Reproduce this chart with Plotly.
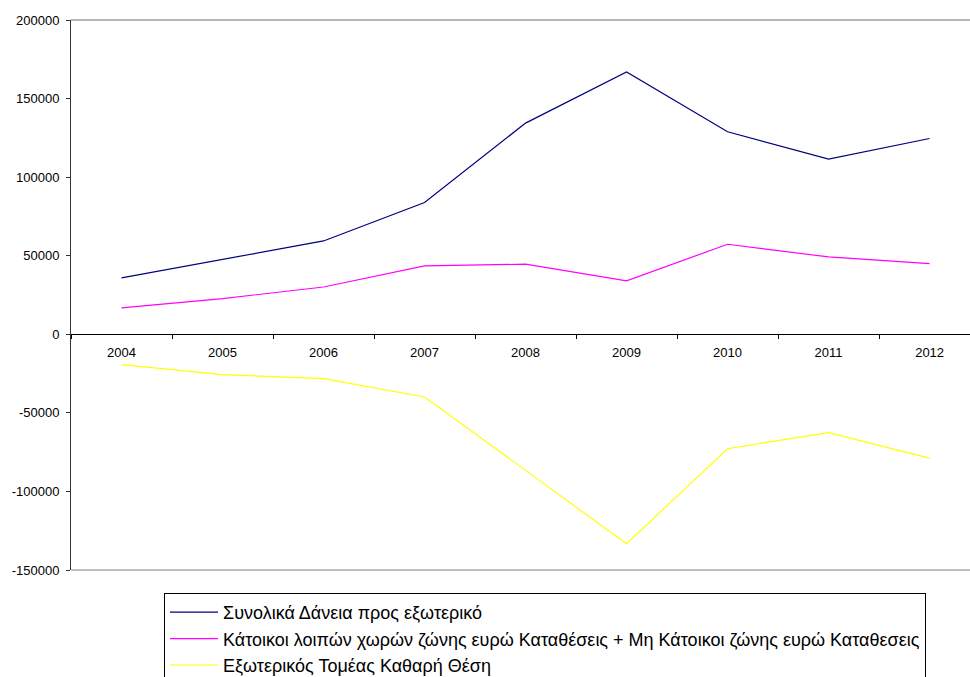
import plotly.graph_objects as go

years = ["2004", "2005", "2006", "2007", "2008", "2009", "2010", "2011", "2012"]
loans_abroad = [35900, 47600, 59400, 83900, 134400, 166900, 128900, 111500, 124600]
deposits_nonres = [16800, 22700, 30100, 43500, 44600, 34000, 57300, 49200, 45000]
net_position = [-19300, -25700, -28200, -39900, -86600, -133300, -72800, -62600, -78800]

names = [
    "Συνολικά Δάνεια προς εξωτερικό",
    "Κάτοικοι λοιπών χωρών ζώνης ευρώ Καταθέσεις + Μη Κάτοικοι ζώνης ευρώ Καταθεσεις",
    "Εξωτερικός Τομέας Καθαρή Θέση",
]
colors = ["#000080", "#FF00FF", "#FFFF00"]
series = [loans_abroad, deposits_nonres, net_position]

fig = go.Figure()
for i, (nm, col, vals) in enumerate(zip(names, colors, series)):
    fig.add_trace(go.Scatter(
        x=years, y=vals, mode="lines", name=nm,
        line=dict(color=col, width=1.2),
        legendgroup=f"g{i}",
    ))

W, H = 970, 677
L, R, T, B = 71, 0, 20, 107
ymin, ymax = -150000, 200000
zero_pos = (0 - ymin) / (ymax - ymin)

fig.update_layout(
    width=W, height=H,
    margin=dict(l=L, r=R, t=T, b=B, pad=0, autoexpand=False),
    paper_bgcolor="white", plot_bgcolor="white",
    font=dict(family="Liberation Sans, Arial, sans-serif", color="black", size=12),
    showlegend=True,
    legend=dict(
        xref="container", yref="container",
        x=164 / W, y=(H - 593) / H,
        xanchor="left", yanchor="top",
        bordercolor="black", borderwidth=1, bgcolor="white",
        font=dict(size=18, family="Liberation Sans, Arial, sans-serif"),
        tracegroupgap=0,
        traceorder="normal",
        itemwidth=48,
    ),
    xaxis=dict(
        type="category",
        range=[-0.5, 8.4],
        anchor="free", position=zero_pos,
        showline=True, linecolor="black", linewidth=1,
        ticks="outside", ticklen=4, tickcolor="black", tickson="boundaries",
        showgrid=False, zeroline=False,
        tickfont=dict(size=13),
        ticklabelstandoff=6,
    ),
    yaxis=dict(
        range=[ymin, ymax],
        tickvals=[-150000, -100000, -50000, 0, 50000, 100000, 150000, 200000],
        ticktext=["-150000", "-100000", "-50000", "0", "50000", "100000", "150000", "200000"],
        showline=True, linecolor="#333333", linewidth=1,
        ticks="outside", ticklen=4, tickcolor="#333333",
        showgrid=False, zeroline=False,
        tickfont=dict(size=13),
        ticklabelstandoff=4,
    ),
    shapes=[
        dict(type="line", xref="paper", yref="paper", x0=0, x1=1, y0=1, y1=1,
             line=dict(color="#A0A0A0", width=1.5)),
        dict(type="line", xref="paper", yref="paper", x0=0, x1=1, y0=0, y1=0,
             line=dict(color="#808080", width=1)),
    ],
)

fig.write_html("out.html")
